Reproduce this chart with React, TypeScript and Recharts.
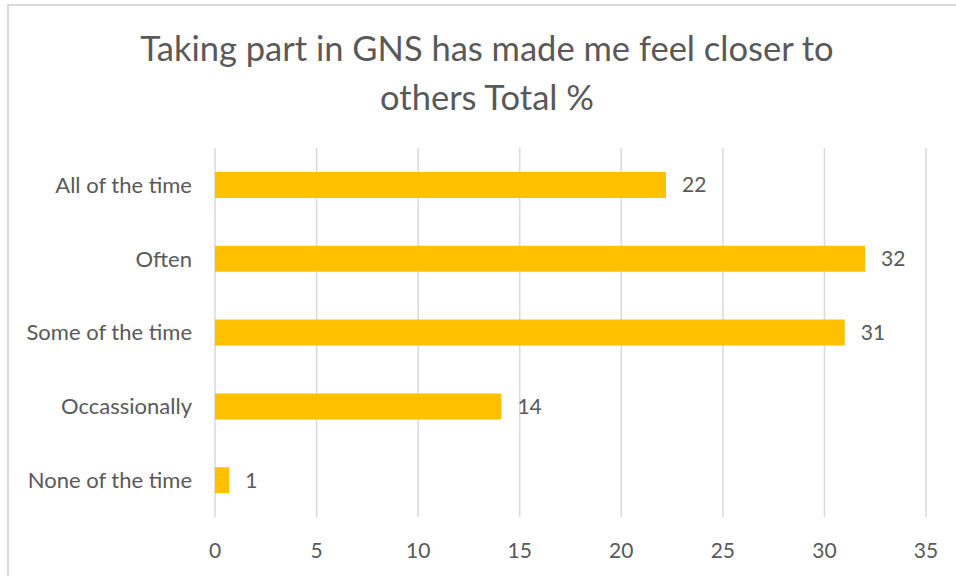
import React from 'react'
import { BarChart, Bar, XAxis, YAxis, CartesianGrid, LabelList } from 'recharts'

const categories = ['All of the time', 'Often', 'Some of the time', 'Occassionally', 'None of the time']
const totals = [22.2, 32, 31, 14.1, 0.7]
const xTicks = [0, 5, 10, 15, 20, 25, 30, 35]
const titleLines = ['Taking part in GNS has made me feel closer to', 'others Total %']

const data = categories.map((name, i) => ({ name, total: totals[i] }))

const FONT = 'Lato, "Liberation Sans", sans-serif'
const TEXT = '#595959'

export default function App() {
  return (
    <div style={{ position: 'absolute', left: 0, top: 0, width: 956, height: 576, background: '#fff', fontFamily: FONT, overflow: 'hidden' }}>
      {/* chart area border (right/bottom are cut off in the reference) */}
      <div style={{ position: 'absolute', left: 7, top: 4, width: 980, height: 600, borderTop: '2px solid #d9d9d9', borderLeft: '2px solid #d9d9d9' }} />
      <div style={{ position: 'absolute', left: 0, top: 23, width: 974, textAlign: 'center', fontSize: 34.5, lineHeight: '49px', color: TEXT }}>
        {titleLines.map(t => <div key={t}>{t}</div>)}
      </div>
      <div style={{ position: 'absolute', left: 0, top: 0 }}>
        <BarChart width={956} height={576} data={data} layout="vertical" margin={{ top: 148, right: 30, bottom: 9, left: 0 }}>
          <CartesianGrid horizontal={false} stroke="#d9d9d9" strokeWidth={1.5} />
          <XAxis
            type="number"
            domain={[0, 35]}
            ticks={xTicks}
            axisLine={false}
            tickLine={false}
            tickSize={0}
            tickMargin={26}
            height={50}
            tick={{ fill: TEXT, fontSize: 21, fontFamily: FONT }}
          />
          <YAxis
            type="category"
            dataKey="name"
            width={215}
            axisLine={false}
            tickLine={false}
            tickSize={0}
            tickMargin={23}
            tick={{ fill: TEXT, fontSize: 22, fontFamily: FONT }}
          />
          <Bar dataKey="total" fill="#FFC000" barSize={26} isAnimationActive={false}>
            <LabelList
              dataKey="total"
              position="right"
              offset={16}
              formatter={(v: number) => Math.round(v)}
              style={{ fill: TEXT, fontSize: 21, fontFamily: FONT }}
            />
          </Bar>
        </BarChart>
      </div>
    </div>
  )
}
